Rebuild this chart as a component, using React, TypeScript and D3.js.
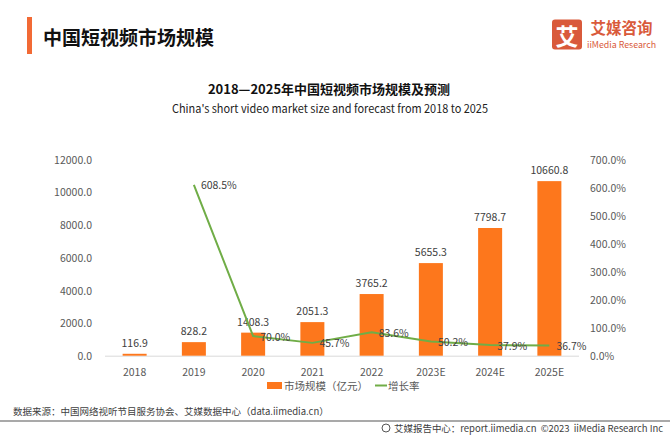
import React from "react";
import * as d3 from "d3";

const categories = ["2018", "2019", "2020", "2021", "2022", "2023E", "2024E", "2025E"];
const marketSize = [116.9, 828.2, 1408.3, 2051.3, 3765.2, 5655.3, 7798.7, 10660.8];
const growthRate: (number | null)[] = [null, 608.5, 70.0, 45.7, 83.6, 50.2, 37.9, 36.7];
const leftTicks = [0, 2000, 4000, 6000, 8000, 10000, 12000];
const rightTicks = [0, 100, 200, 300, 400, 500, 600, 700];

const W = 670;
const H = 436;
const BAR = "#fd771c";
const LINE = "#70ad47";
const AXIS_TXT = "#595959";
const FONT = "'Noto Sans CJK SC', 'Noto Sans', sans-serif";

export default function App() {
  const x = d3.scaleBand<string>().domain(categories).range([105, 579]).paddingInner(0.595).paddingOuter(0.2975);
  const yL = d3.scaleLinear().domain([0, 12000]).range([355.7, 159.2]);
  const yR = d3.scaleLinear().domain([0, 700]).range([355.7, 159.2]);
  const cx = (c: string) => (x(c) as number) + x.bandwidth() / 2;

  const linePts = categories
    .map((c, i) => ({ c, v: growthRate[i] }))
    .filter((d) => d.v !== null) as { c: string; v: number }[];
  const lineGen = d3
    .line<{ c: string; v: number }>()
    .x((d) => cx(d.c))
    .y((d) => yR(d.v));

  return (
    <svg width={W} height={H} viewBox={`0 0 ${W} ${H}`} style={{ position: "absolute", left: 0, top: 0, background: "#fff" }} fontFamily={FONT}>
      <rect x={0} y={0} width={W} height={H} fill="#fff" />
      {/* header */}
      <rect x={27} y={17} width={5} height={37} fill="#f26a35" />
      <text x={43} y={36} fontSize={19} fontWeight="bold" fill="#111" dominantBaseline="central">
        中国短视频市场规模
      </text>
      {/* logo */}
      <rect x={552} y={19.5} width={30} height={30} rx={3} fill="#d95a3b" />
      <text x={567} y={35} fontSize={23} fontWeight="bold" fill="#fff" textAnchor="middle" dominantBaseline="central">
        艾
      </text>
      <text x={621.5} y={27} fontSize={15.5} fontWeight="bold" fill="#d95a3b" textAnchor="middle" dominantBaseline="central">
        艾媒咨询
      </text>
      <text x={621.5} y={44} fontSize={9} fill="#d95a3b" textAnchor="middle" dominantBaseline="central" textLength={69} lengthAdjust="spacingAndGlyphs">
        iiMedia Research
      </text>

      {/* chart titles */}
      <text x={329} y={88} fontSize={13} fontWeight="bold" fill="#111" textAnchor="middle" dominantBaseline="central">
        2018—2025年中国短视频市场规模及预测
      </text>
      <text x={330} y={108} fontSize={11.5} fill="#222" textAnchor="middle" dominantBaseline="central" textLength={316} lengthAdjust="spacingAndGlyphs">
        China's short video market size and forecast from 2018 to 2025
      </text>

      {/* left axis ticks */}
      {leftTicks.map((t) => (
        <text key={"l" + t} x={92} y={yL(t)} fontSize={10.5} fill={AXIS_TXT} textAnchor="end" dominantBaseline="central">
          {t.toFixed(1)}
        </text>
      ))}
      {/* right axis ticks */}
      {rightTicks.map((t) => (
        <text key={"r" + t} x={590} y={yR(t)} fontSize={10.5} fill={AXIS_TXT} textAnchor="start" dominantBaseline="central">
          {t.toFixed(1) + "%"}
        </text>
      ))}

      {/* baseline */}
      <line x1={105} x2={579} y1={yL(0) + 0.5} y2={yL(0) + 0.5} stroke="#d9d9d9" strokeWidth={1} />

      {/* bars */}
      {categories.map((c, i) => (
        <rect key={"b" + c} x={x(c)} y={yL(marketSize[i])} width={x.bandwidth()} height={yL(0) - yL(marketSize[i])} fill={BAR} />
      ))}
      {categories.map((c, i) => (
        <text key={"bl" + c} x={cx(c)} y={yL(marketSize[i]) - 11.5} fontSize={10.5} fill="#404040" textAnchor="middle" dominantBaseline="central">
          {marketSize[i].toFixed(1)}
        </text>
      ))}

      {/* line */}
      <path d={lineGen(linePts) || ""} fill="none" stroke={LINE} strokeWidth={2} strokeLinejoin="round" />
      {linePts.map((d) => (
        <text key={"pl" + d.c} x={cx(d.c) + 7} y={yR(d.v)} fontSize={10.5} fill="#404040" textAnchor="start" dominantBaseline="central">
          {d.v.toFixed(1) + "%"}
        </text>
      ))}

      {/* category labels */}
      {categories.map((c) => (
        <text key={"c" + c} x={cx(c)} y={371.5} fontSize={10.5} fill={AXIS_TXT} textAnchor="middle" dominantBaseline="central">
          {c}
        </text>
      ))}

      {/* legend */}
      <rect x={267} y={382} width={15} height={7} fill={BAR} />
      <text x={284} y={385.5} fontSize={10.5} fill={AXIS_TXT} dominantBaseline="central">
        市场规模（亿元）
      </text>
      <line x1={375} x2={387} y1={385.5} y2={385.5} stroke={LINE} strokeWidth={2} />
      <text x={388} y={385.5} fontSize={10.5} fill={AXIS_TXT} dominantBaseline="central">
        增长率
      </text>

      {/* footer */}
      <text x={13} y={411} fontSize={9.5} fill="#404040" dominantBaseline="central">
        数据来源：中国网络视听节目服务协会、艾媒数据中心（data.iimedia.cn）
      </text>
      <line x1={0} x2={670} y1={421} y2={421} stroke="#8c8c8c" strokeWidth={1.5} />
      <circle cx={386} cy={428} r={4} fill="none" stroke="#555" strokeWidth={1} />
      <text x={394} y={428} fontSize={9.5} fill="#404040" textAnchor="start" dominantBaseline="central" style={{ whiteSpace: "pre" }} textLength={269} lengthAdjust="spacing">
        {"艾媒报告中心：report.iimedia.cn  ©2023  iiMedia Research Inc"}
      </text>
    </svg>
  );
}
